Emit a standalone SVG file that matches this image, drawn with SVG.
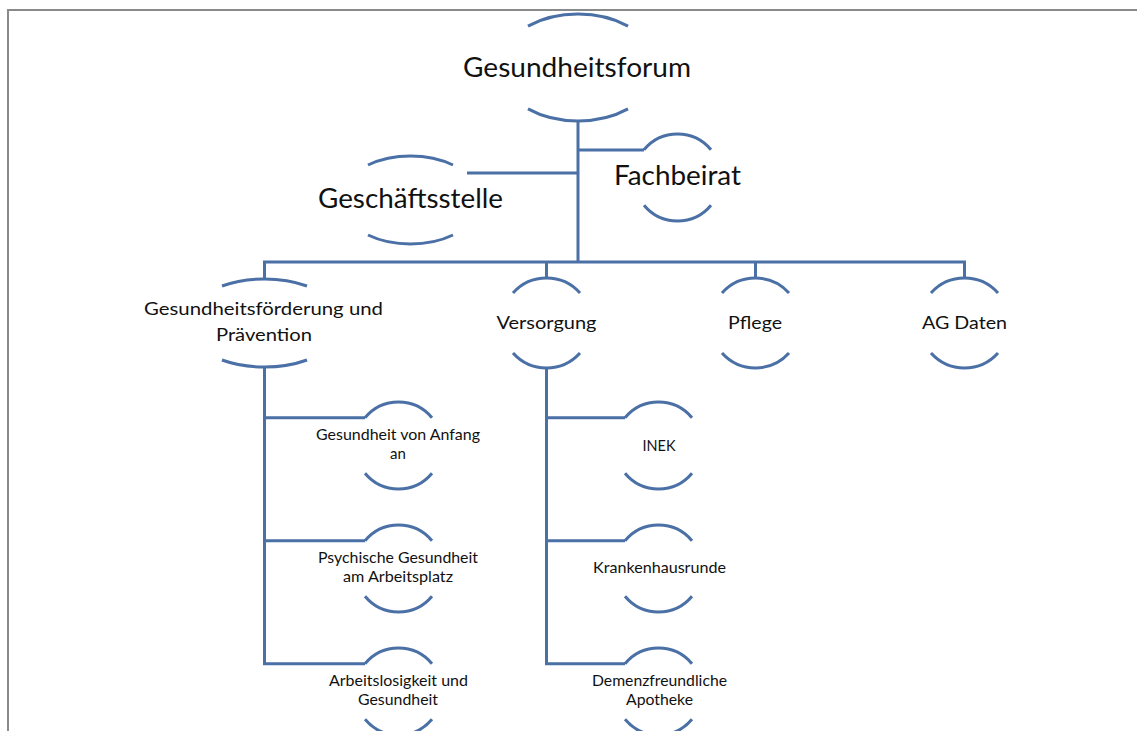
<svg xmlns="http://www.w3.org/2000/svg" width="1137" height="731" viewBox="0 0 1137 731">
<style>
.arc{fill:none;stroke:#4a70a6;stroke-width:3}
.con{fill:none;stroke:#4a70a6;stroke-width:3}
text{font-family:Lato,"Open Sans","Liberation Sans",sans-serif;fill:#111;text-anchor:middle}
.t1{font-size:26px}
.t2{font-size:16.5px}
.t3{font-size:15px}
</style>
<rect x="0" y="0" width="1137" height="731" fill="#fff"/>
<path d="M8 731 V10 H1137" fill="none" stroke="#8a8a8a" stroke-width="2"/>
<g id="connectors">
<path class="con" d="M578 121 V262"/>
<path class="con" d="M578 150 H644"/>
<path class="con" d="M467 173 H578"/>
<path class="con" d="M264.5 279 V262 H964.5 V278"/>
<path class="con" d="M546.5 262 V278"/>
<path class="con" d="M755.5 262 V278"/>
<path class="con" d="M264.5 367 V663.75 M264.5 417.75 H365 M264.5 540.75 H365 M263 663.75 H365"/>
<path class="con" d="M546.5 368 V663.75 M546.5 417.75 H625 M546.5 540.75 H625 M545 663.75 H625"/>
</g>
<g id="gesundheitsforum">
<path class="arc" d="M528 26.1 A79 53.5 0 0 1 628 26.1"/>
<path class="arc" d="M528 108.9 A79 53.5 0 0 0 628 108.9"/>
<text class="t1" x="577" y="77" textLength="228" lengthAdjust="spacingAndGlyphs">Gesundheitsforum</text>
</g>
<g id="geschaeftsstelle">
<path class="arc" d="M368 165 A70 44 0 0 1 453 165"/>
<path class="arc" d="M368 235 A70 44 0 0 0 453 235"/>
<text class="t1" x="410.5" y="208" textLength="185" lengthAdjust="spacingAndGlyphs">Geschäftsstelle</text>
</g>
<g id="fachbeirat">
<path class="arc" d="M644 149.75 A43.5 43.5 0 0 1 711 149.75"/>
<path class="arc" d="M644 205.25 A43.5 43.5 0 0 0 711 205.25"/>
<text class="t1" x="677.5" y="185" textLength="127" lengthAdjust="spacingAndGlyphs">Fachbeirat</text>
</g>
<g id="gesundheitsfoerderung">
<path class="arc" d="M222 286 A78.5 44 0 0 1 307 286"/>
<path class="arc" d="M222 360 A78.5 44 0 0 0 307 360"/>
<text class="t2" x="263.5" y="315" textLength="239" lengthAdjust="spacingAndGlyphs">Gesundheitsförderung  und</text>
<text class="t2" x="264" y="341" textLength="96" lengthAdjust="spacingAndGlyphs">Prävention</text>
</g>
<g id="versorgung">
<path class="arc" d="M513 293 A45 45 0 0 1 580 293"/>
<path class="arc" d="M513 353 A45 45 0 0 0 580 353"/>
<text class="t2" x="546.5" y="329" textLength="100" lengthAdjust="spacingAndGlyphs">Versorgung</text>
</g>
<g id="pflege">
<path class="arc" d="M722 293 A45 45 0 0 1 789 293"/>
<path class="arc" d="M722 353 A45 45 0 0 0 789 353"/>
<text class="t2" x="755" y="329" textLength="54" lengthAdjust="spacingAndGlyphs">Pflege</text>
</g>
<g id="agdaten">
<path class="arc" d="M931 293 A45 45 0 0 1 998 293"/>
<path class="arc" d="M931 353 A45 45 0 0 0 998 353"/>
<text class="t2" x="964.5" y="329" textLength="85" lengthAdjust="spacingAndGlyphs">AG Daten</text>
</g>
<g id="gesundheit-anfang">
<path class="arc" d="M365 417.75 A43.5 43.5 0 0 1 432 417.75"/>
<path class="arc" d="M365 473.25 A43.5 43.5 0 0 0 432 473.25"/>
<text class="t3" x="398" y="440" textLength="164" lengthAdjust="spacingAndGlyphs">Gesundheit von Anfang</text>
<text class="t3" x="398" y="459">an</text>
</g>
<g id="psychische">
<path class="arc" d="M365 540.75 A43.5 43.5 0 0 1 432 540.75"/>
<path class="arc" d="M365 596.25 A43.5 43.5 0 0 0 432 596.25"/>
<text class="t3" x="398" y="563" textLength="160" lengthAdjust="spacingAndGlyphs">Psychische Gesundheit</text>
<text class="t3" x="398" y="582" textLength="110" lengthAdjust="spacingAndGlyphs">am Arbeitsplatz</text>
</g>
<g id="arbeitslosigkeit">
<path class="arc" d="M365 663.75 A43.5 43.5 0 0 1 432 663.75"/>
<path class="arc" d="M365 719.25 A43.5 43.5 0 0 0 432 719.25"/>
<text class="t3" x="398.5" y="686" textLength="139" lengthAdjust="spacingAndGlyphs">Arbeitslosigkeit und</text>
<text class="t3" x="398" y="705" textLength="80" lengthAdjust="spacingAndGlyphs">Gesundheit</text>
</g>
<g id="inek">
<path class="arc" d="M625 417.75 A43.5 43.5 0 0 1 692 417.75"/>
<path class="arc" d="M625 473.25 A43.5 43.5 0 0 0 692 473.25"/>
<text class="t3" x="659" y="451" textLength="33" lengthAdjust="spacingAndGlyphs">INEK</text>
</g>
<g id="krankenhausrunde">
<path class="arc" d="M625 540.75 A43.5 43.5 0 0 1 692 540.75"/>
<path class="arc" d="M625 596.25 A43.5 43.5 0 0 0 692 596.25"/>
<text class="t3" x="659.5" y="573" textLength="133" lengthAdjust="spacingAndGlyphs">Krankenhausrunde</text>
</g>
<g id="demenz">
<path class="arc" d="M625 663.75 A43.5 43.5 0 0 1 692 663.75"/>
<path class="arc" d="M625 719.25 A43.5 43.5 0 0 0 692 719.25"/>
<text class="t3" x="659.5" y="686" textLength="135" lengthAdjust="spacingAndGlyphs">Demenzfreundliche</text>
<text class="t3" x="659.5" y="705" textLength="67" lengthAdjust="spacingAndGlyphs">Apotheke</text>
</g>
</svg>
